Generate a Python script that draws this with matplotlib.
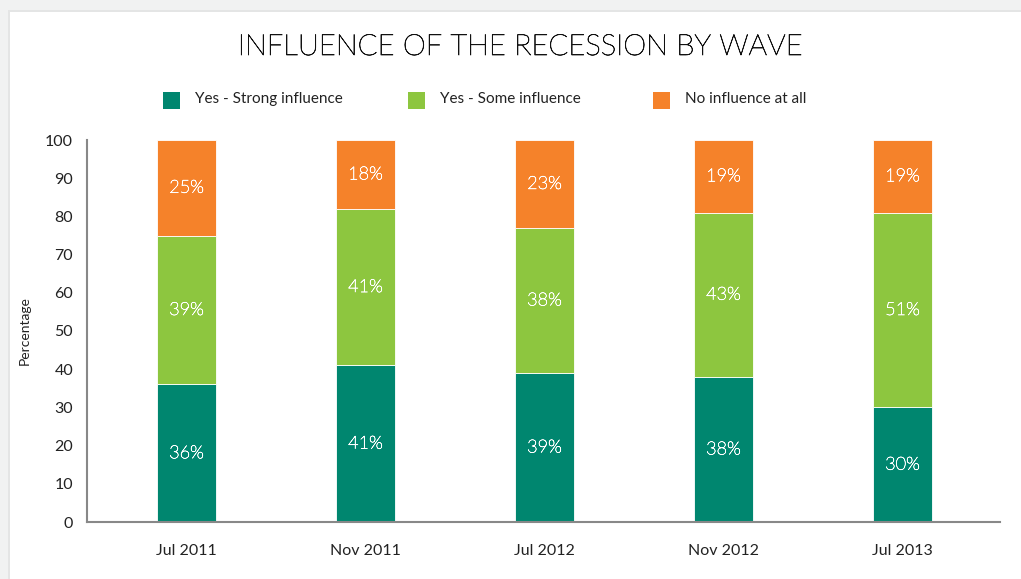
import numpy as np
import matplotlib.pyplot as plt
import matplotlib.patheffects as pe
from matplotlib.patches import Rectangle

# survey waves and answer shares (%)
waves = ['Jul 2011', 'Nov 2011', 'Jul 2012', 'Nov 2012', 'Jul 2013']
strong = [36, 41, 39, 38, 30]
some = [39, 41, 38, 43, 51]
none_at_all = [25, 18, 23, 19, 19]

series_names = ['Yes - Strong influence', 'Yes - Some influence', 'No influence at all']
series_colors = ['#00866f', '#8dc63f', '#f5822a']

plt.rcParams['font.family'] = ['Lato', 'DejaVu Sans']

fig = plt.figure(figsize=(10.21, 5.79), dpi=100)
fig.patch.set_facecolor('#f1f2f2')

# white card behind the chart, with a soft edge
W, H = 1021, 579
fig.patches.append(Rectangle((8 / W, 0), 1, (H - 10) / H, transform=fig.transFigure,
                             facecolor='#e4e5e5', edgecolor='none', zorder=-10))
fig.patches.append(Rectangle((10 / W, 0), 1, (H - 12) / H, transform=fig.transFigure,
                             facecolor='white', edgecolor='none', zorder=-9))

ax = fig.add_axes([87 / W, (H - 522) / H, 913 / W, 382 / H])
ax.set_facecolor('none')

x = np.arange(len(waves))
width = 0.33
bottom = np.zeros(len(waves))
for vals, name, col in zip([strong, some, none_at_all], series_names, series_colors):
    vals = np.array(vals, dtype=float)
    ax.bar(x, vals, width, bottom=bottom, color=col, edgecolor='white',
           linewidth=0.6, label=name)
    for xi, b, v in zip(x, bottom, vals):
        ax.text(xi, b + v / 2, '%d%%' % v, ha='center', va='center',
                color='white', fontsize=13, fontweight='light',
                path_effects=[pe.withStroke(linewidth=0.4, foreground='white')])
    bottom += vals

ax.set_xlim(-0.556, 4.545)
ax.set_ylim(0, 100)
ax.set_yticks(range(0, 101, 10))
ax.set_xticks(x)
ax.set_xticklabels(waves)
ax.tick_params(length=0, labelsize=11.5, colors='#222222')
ax.tick_params(axis='y', pad=10)
ax.tick_params(axis='x', pad=16)
for s in ['top', 'right']:
    ax.spines[s].set_visible(False)
for s in ['left', 'bottom']:
    ax.spines[s].set_color('#888888')
    ax.spines[s].set_linewidth(1.5)
ax.set_ylabel('Percentage', fontsize=10, color='#222222', labelpad=10)

fig.text(520 / W, 1 - 47 / H, 'INFLUENCE OF THE RECESSION BY WAVE', ha='center',
         va='center', fontsize=21, fontweight='light', color='#111111',
         path_effects=[pe.withStroke(linewidth=0.5, foreground='#111111')])

# legend laid out by hand in one row
leg_x = [163, 408, 653]
for lx, name, col in zip(leg_x, series_names, series_colors):
    fig.patches.append(Rectangle((lx / W, 1 - 109 / H), 17 / W, 17 / H,
                                 transform=fig.transFigure, facecolor=col,
                                 edgecolor='none'))
    fig.text((lx + 32) / W, 1 - 99 / H, name, ha='left', va='center',
             fontsize=11, color='#222222')

fig.savefig('out.png', dpi=100, facecolor=fig.get_facecolor())
